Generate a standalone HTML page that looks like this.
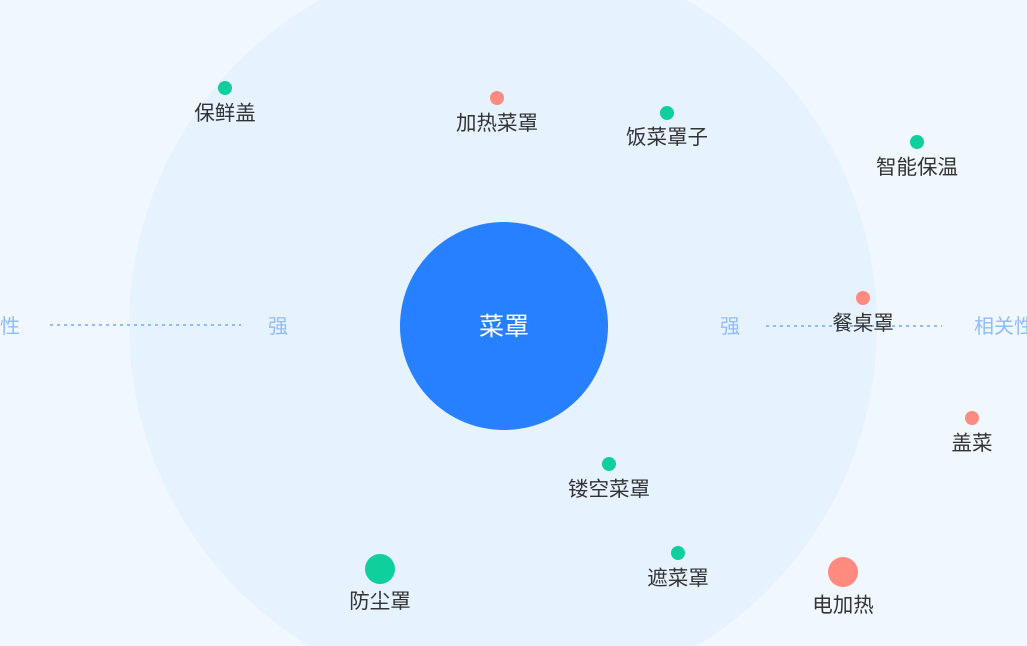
<!DOCTYPE html>
<html><head><meta charset="utf-8"><style>
html,body{margin:0;padding:0;width:1027px;height:646px;overflow:hidden;background:#f0f7ff}
svg{display:block}
text{font-family:"Liberation Sans","Noto Sans CJK SC",sans-serif}
</style></head><body>
<svg width="1027" height="646" viewBox="0 0 1027 646" xmlns="http://www.w3.org/2000/svg">
<rect width="1027" height="646" fill="#f0f7ff"/>
<circle cx="503" cy="326" r="374" fill="#e7f2ff"/>
<circle cx="504" cy="326" r="104" fill="#2680ff"/>
<text x="504" y="335" font-size="25" fill="#fff" text-anchor="middle">菜罩</text>
<g font-size="20" fill="#8fbcff" text-anchor="middle">
<text x="-10" y="333">相关性</text>
<text x="278" y="333">强</text>
<text x="730" y="333">强</text>
<text x="1004" y="333">相关性</text>
</g>
<g stroke="#8fbcff" stroke-width="2" stroke-dasharray="3,4">
<line x1="50" y1="325" x2="241" y2="325"/>
<line x1="766" y1="326" x2="942" y2="326"/>
</g>
<g fill="#0fcf9c">
<circle cx="225" cy="88" r="7"/>
<circle cx="667" cy="113" r="7"/>
<circle cx="917" cy="142" r="7"/>
<circle cx="609" cy="464" r="7"/>
<circle cx="678" cy="553" r="7"/>
<circle cx="380" cy="569" r="15"/>
</g>
<g fill="#ff8a80">
<circle cx="497" cy="98" r="7"/>
<circle cx="863" cy="298" r="7"/>
<circle cx="972" cy="418" r="7"/>
<circle cx="843" cy="572" r="15"/>
</g>
<g font-size="20.5" fill="#333" text-anchor="middle">
<text x="225" y="120">保鲜盖</text>
<text x="497" y="130">加热菜罩</text>
<text x="667" y="144">饭菜罩子</text>
<text x="917" y="174">智能保温</text>
<text x="863" y="330">餐桌罩</text>
<text x="972" y="450">盖菜</text>
<text x="609" y="496">镂空菜罩</text>
<text x="678" y="585">遮菜罩</text>
<text x="380" y="608">防尘罩</text>
<text x="843" y="612">电加热</text>
</g>
</svg>
</body></html>
